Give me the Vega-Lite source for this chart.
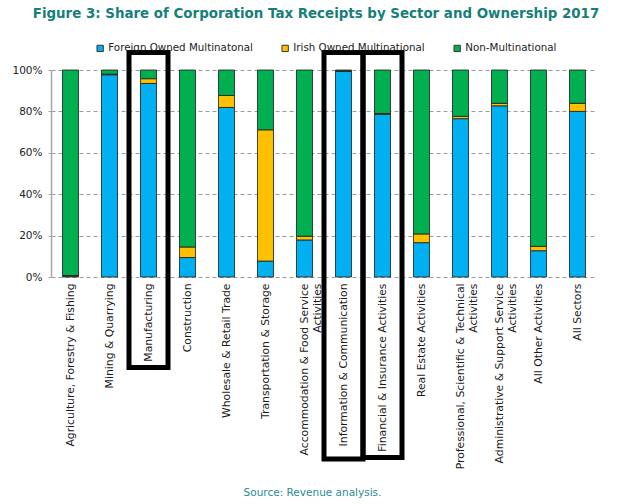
{
  "$schema": "https://vega.github.io/schema/vega-lite/v6.json",
  "width": 546,
  "height": 207,
  "autosize": {"type": "none"},
  "padding": {"left": 51, "top": 70, "right": 46, "bottom": 227},
  "background": "white",
  "config": {"view": {"stroke": null}, "font": "DejaVu Sans"},
  "title": {
    "text": "Figure 3: Share of Corporation Tax Receipts by Sector and Ownership 2017",
    "font": "DejaVu Sans",
    "fontSize": 13.4,
    "fontWeight": "bold",
    "color": "#167f7b",
    "anchor": "middle",
    "offset": 19,
    "dx": -8,
    "dy": -4
  },
  "datasets": {
    "shares": [
      {"sector": "Agriculture, Forestry & Fishing", "ownership": "Foreign Owned Multinatonal", "share": 0.3},
      {"sector": "Agriculture, Forestry & Fishing", "ownership": "Irish Owned Multinational", "share": 0.4},
      {"sector": "Agriculture, Forestry & Fishing", "ownership": "Non-Multinational", "share": 99.3},
      {"sector": "Mining & Quarrying", "ownership": "Foreign Owned Multinatonal", "share": 97.7},
      {"sector": "Mining & Quarrying", "ownership": "Irish Owned Multinational", "share": 0.3},
      {"sector": "Mining & Quarrying", "ownership": "Non-Multinational", "share": 2.0},
      {"sector": "Manufacturing", "ownership": "Foreign Owned Multinatonal", "share": 93.5},
      {"sector": "Manufacturing", "ownership": "Irish Owned Multinational", "share": 2.3},
      {"sector": "Manufacturing", "ownership": "Non-Multinational", "share": 4.2},
      {"sector": "Construction", "ownership": "Foreign Owned Multinatonal", "share": 9.4},
      {"sector": "Construction", "ownership": "Irish Owned Multinational", "share": 5.1},
      {"sector": "Construction", "ownership": "Non-Multinational", "share": 85.5},
      {"sector": "Wholesale & Retail Trade", "ownership": "Foreign Owned Multinatonal", "share": 81.9},
      {"sector": "Wholesale & Retail Trade", "ownership": "Irish Owned Multinational", "share": 5.8},
      {"sector": "Wholesale & Retail Trade", "ownership": "Non-Multinational", "share": 12.3},
      {"sector": "Transportation & Storage", "ownership": "Foreign Owned Multinatonal", "share": 7.7},
      {"sector": "Transportation & Storage", "ownership": "Irish Owned Multinational", "share": 63.4},
      {"sector": "Transportation & Storage", "ownership": "Non-Multinational", "share": 28.9},
      {"sector": "Accommodation & Food Service Activities", "ownership": "Foreign Owned Multinatonal", "share": 17.9},
      {"sector": "Accommodation & Food Service Activities", "ownership": "Irish Owned Multinational", "share": 1.8},
      {"sector": "Accommodation & Food Service Activities", "ownership": "Non-Multinational", "share": 80.3},
      {"sector": "Information & Communication", "ownership": "Foreign Owned Multinatonal", "share": 99.4},
      {"sector": "Information & Communication", "ownership": "Irish Owned Multinational", "share": 0.2},
      {"sector": "Information & Communication", "ownership": "Non-Multinational", "share": 0.4},
      {"sector": "Financial & Insurance Activities", "ownership": "Foreign Owned Multinatonal", "share": 78.5},
      {"sector": "Financial & Insurance Activities", "ownership": "Irish Owned Multinational", "share": 0.5},
      {"sector": "Financial & Insurance Activities", "ownership": "Non-Multinational", "share": 21.0},
      {"sector": "Real Estate Activities", "ownership": "Foreign Owned Multinatonal", "share": 16.6},
      {"sector": "Real Estate Activities", "ownership": "Irish Owned Multinational", "share": 4.2},
      {"sector": "Real Estate Activities", "ownership": "Non-Multinational", "share": 79.2},
      {"sector": "Professional, Scientific & Technical Activities", "ownership": "Foreign Owned Multinatonal", "share": 76.5},
      {"sector": "Professional, Scientific & Technical Activities", "ownership": "Irish Owned Multinational", "share": 1.1},
      {"sector": "Professional, Scientific & Technical Activities", "ownership": "Non-Multinational", "share": 22.4},
      {"sector": "Administrative & Support Service Activities", "ownership": "Foreign Owned Multinatonal", "share": 82.7},
      {"sector": "Administrative & Support Service Activities", "ownership": "Irish Owned Multinational", "share": 1.2},
      {"sector": "Administrative & Support Service Activities", "ownership": "Non-Multinational", "share": 16.1},
      {"sector": "All Other Activities", "ownership": "Foreign Owned Multinatonal", "share": 12.7},
      {"sector": "All Other Activities", "ownership": "Irish Owned Multinational", "share": 2.1},
      {"sector": "All Other Activities", "ownership": "Non-Multinational", "share": 85.2},
      {"sector": "All Sectors", "ownership": "Foreign Owned Multinatonal", "share": 80.0},
      {"sector": "All Sectors", "ownership": "Irish Owned Multinational", "share": 3.9},
      {"sector": "All Sectors", "ownership": "Non-Multinational", "share": 16.1}
    ],
    "highlights": [
      {"sector": "Manufacturing", "top": 1.085, "bottom": -0.437},
      {"sector": "Information & Communication", "top": 1.085, "bottom": -0.879},
      {"sector": "Financial & Insurance Activities", "top": 1.085, "bottom": -0.872}
    ]
  },
  "encoding": {
    "x": {
      "field": "sector",
      "type": "nominal",
      "sort": null,
      "scale": {
        "domain": ["Agriculture, Forestry & Fishing", "Mining & Quarrying", "Manufacturing", "Construction", "Wholesale & Retail Trade", "Transportation & Storage", "Accommodation & Food Service Activities", "Information & Communication", "Financial & Insurance Activities", "Real Estate Activities", "Professional, Scientific & Technical Activities", "Administrative & Support Service Activities", "All Other Activities", "All Sectors"],
        "paddingInner": 0,
        "paddingOuter": 0
      },
      "axis": {
        "labelAngle": -90,
        "labelAlign": "right",
        "labelBaseline": "middle",
        "labelFont": "DejaVu Sans",
        "labelFontSize": 10.8,
        "labelColor": "#1a1a1a",
        "labelPadding": 6,
        "labelLineHeight": 13,
        "labelLimit": 0,
        "labelExpr": "datum.value == 'Accommodation & Food Service Activities' ? ['Accommodation & Food Service', 'Activities'] : datum.value == 'Professional, Scientific & Technical Activities' ? ['Professional, Scientific & Technical', 'Activities'] : datum.value == 'Administrative & Support Service Activities' ? ['Administrative & Support Service', 'Activities'] : datum.value",
        "ticks": false,
        "domain": false,
        "labelOverlap": false,
        "title": "Source: Revenue analysis.",
        "titleFont": "DejaVu Sans",
        "titleFontSize": 10.5,
        "titleFontWeight": "normal",
        "titleColor": "#2a8d8d",
        "titleX": 261,
        "titleY": 218,
        "titleAlign": "center",
        "titleBaseline": "alphabetic"
      }
    },
    "y": {
      "type": "quantitative",
      "scale": {"domain": [0, 1], "nice": false},
      "axis": {
        "values": [0, 0.2, 0.4, 0.6, 0.8, 1],
        "format": ".0%",
        "title": null,
        "labelFont": "DejaVu Sans",
        "labelFontSize": 10.5,
        "labelColor": "#222222",
        "labelPadding": 6,
        "tickSize": 3,
        "tickColor": "#a6a6a6",
        "domainColor": "#a6a6a6",
        "domainWidth": 1.5,
        "grid": true,
        "gridColor": "#9a9a9a",
        "gridDash": [4, 3],
        "gridWidth": 1
      }
    }
  },
  "layer": [
    {
      "data": {"name": "shares"},
      "mark": {"type": "bar", "width": {"band": 0.41}, "stroke": "#1a1a1a", "strokeWidth": 0.8},
      "encoding": {
        "y": {"field": "share", "type": "quantitative", "stack": "normalize"},
        "order": {"field": "ownership", "sort": "ascending"},
        "color": {
          "field": "ownership",
          "type": "nominal",
          "scale": {
            "domain": ["Foreign Owned Multinatonal", "Irish Owned Multinational", "Non-Multinational"],
            "range": ["#00B0F0", "#FFC000", "#00B050"]
          },
          "legend": {
            "orient": "none",
            "legendX": 44,
            "legendY": -27,
            "direction": "horizontal",
            "title": null,
            "symbolType": "square",
            "symbolSize": 40,
            "symbolStrokeColor": "#333333",
            "symbolStrokeWidth": 1,
            "labelFont": "DejaVu Sans",
            "labelFontSize": 10.3,
            "labelColor": "#222222",
            "labelOffset": 3,
            "columnPadding": 26
          }
        }
      }
    },
    {
      "data": {"name": "highlights"},
      "mark": {"type": "rect", "fillOpacity": 0, "stroke": "#000000", "strokeWidth": 5},
      "encoding": {
        "y": {"field": "top", "type": "quantitative"},
        "y2": {"field": "bottom"}
      }
    }
  ]
}
